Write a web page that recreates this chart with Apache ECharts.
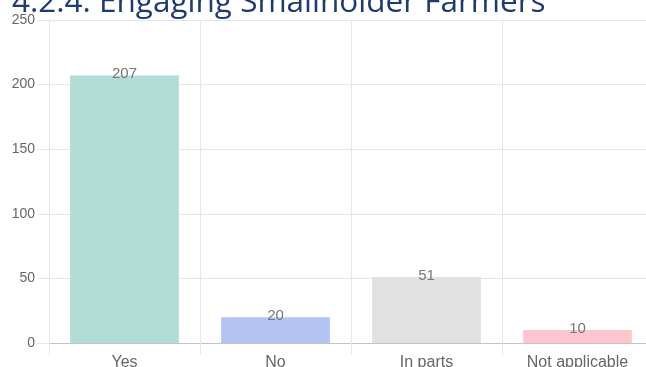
<!DOCTYPE html>
<html><head><meta charset="utf-8">
<script src="https://cdn.jsdelivr.net/npm/echarts@6/dist/echarts.min.js"></script>
<style>html,body{margin:0;padding:0;background:#fff;overflow:hidden}#c{width:646px;height:367px}</style>
</head><body><div id="c"></div>
<script>
const titleText = "4.2.4. Engaging Smallholder Farmers";
const categories = ["Yes", "No", "In parts", "Not applicable"];
const values = [207, 20, 51, 10];
const barColors = ["#b2dcd6", "#b3c3f3", "#e1e1e1", "#ffc7cd"];
const yTicks = [0, 50, 100, 150, 200, 250];

const chart = echarts.init(document.getElementById('c'), null, {renderer: 'canvas'});
chart.setOption({
  animation: false,
  title: {
    text: titleText, left: 7, top: -18,
    textStyle: {fontFamily: 'Open Sans', fontSize: 31.5, fontWeight: 'normal', color: '#1f3a6e'}
  },
  grid: {left: 49, top: 20, right: -7, bottom: 24, containLabel: false, outerBoundsMode: 'none'},
  xAxis: {
    type: 'category', data: categories,
    axisLine: {show: true, lineStyle: {color: '#c4c4c4', width: 1}},
    axisTick: {show: true, length: 12, lineStyle: {color: '#e6e6e6'}},
    splitLine: {show: true, lineStyle: {color: '#e6e6e6'}},
    axisLabel: {color: '#666', fontSize: 16, fontFamily: 'Liberation Sans', margin: 12}
  },
  yAxis: {
    type: 'value', min: yTicks[0], max: yTicks[yTicks.length-1], interval: 50,
    axisLine: {show: true, lineStyle: {color: '#e6e6e6'}},
    axisTick: {show: true, length: 12, lineStyle: {color: '#e6e6e6'}},
    splitLine: {show: true, lineStyle: {color: '#e6e6e6'}},
    axisLabel: {color: '#666', fontSize: 14, fontFamily: 'Liberation Sans', margin: 14}
  },
  series: [{
    type: 'bar', data: values.map((v,i)=>({value: v, itemStyle: {color: barColors[i]}})),
    barCategoryGap: '28%',
    label: {show: true, position: 'top', distance: -6, color: '#777', fontSize: 15, fontFamily: 'Liberation Sans'}
  }]
});
</script></body></html>
